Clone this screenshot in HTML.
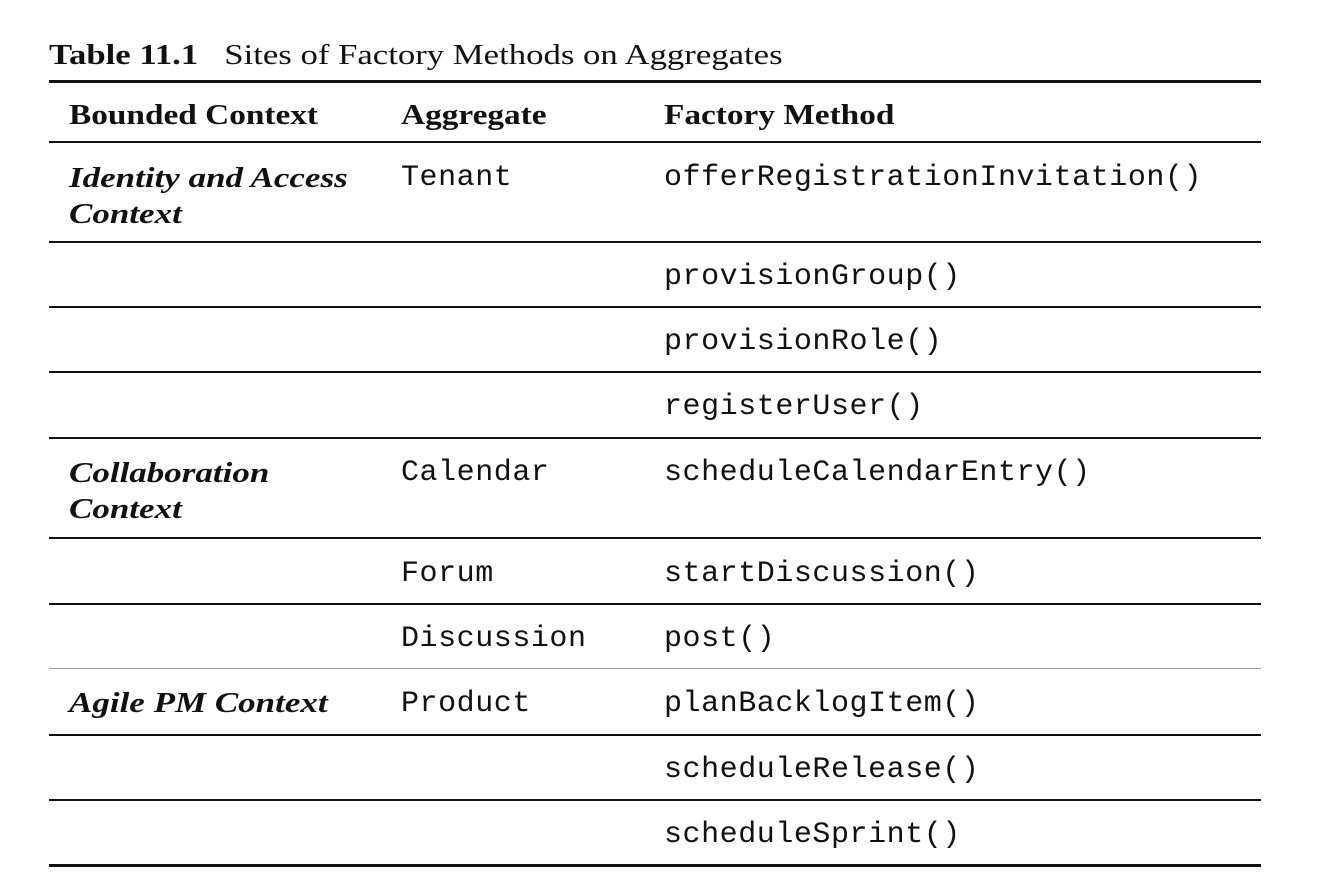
<!DOCTYPE html>
<html><head><meta charset="utf-8"><style>
body{margin:0;width:1318px;height:890px;background:#fff;position:relative;overflow:hidden;color:#111}
.s{position:absolute;font-family:"Liberation Serif",serif;font-size:28px;line-height:1;white-space:nowrap;transform-origin:0 50%}
.m{position:absolute;font-family:"Liberation Mono",monospace;font-size:30px;line-height:1;white-space:nowrap;letter-spacing:0.55px}
.b{font-weight:bold;transform:scaleX(1.19)}.i{font-style:italic;font-weight:bold;transform:scaleX(1.25)}
.l{position:absolute;left:49px;width:1212px;background:#111}
</style></head><body>
<div class="s" style="left:49px;top:42px;transform:scaleX(1.24)"><b>Table 11.1</b>&nbsp;&nbsp;&nbsp;Sites of Factory Methods on Aggregates</div>
<div class="l" style="top:80px;height:3px"></div>
<div class="s b" style="left:69px;top:102px">Bounded Context</div>
<div class="s b" style="left:401px;top:102px">Aggregate</div>
<div class="s b" style="left:664px;top:102px">Factory Method</div>
<div class="l" style="top:141px;height:2px"></div>
<div class="s i" style="left:69px;top:165px">Identity and Access</div>
<div class="s i" style="left:69px;top:201px">Context</div>
<div class="m" style="left:401px;top:163px">Tenant</div>
<div class="m" style="left:664px;top:163px">offerRegistrationInvitation()</div>
<div class="l" style="top:241px;height:2px"></div>
<div class="m" style="left:664px;top:262px">provisionGroup()</div>
<div class="l" style="top:306px;height:2px"></div>
<div class="m" style="left:664px;top:327px">provisionRole()</div>
<div class="l" style="top:371px;height:2px"></div>
<div class="m" style="left:664px;top:392px">registerUser()</div>
<div class="l" style="top:437px;height:2px"></div>
<div class="s i" style="left:69px;top:460px">Collaboration</div>
<div class="s i" style="left:69px;top:496px">Context</div>
<div class="m" style="left:401px;top:458px">Calendar</div>
<div class="m" style="left:664px;top:458px">scheduleCalendarEntry()</div>
<div class="l" style="top:537px;height:2px"></div>
<div class="m" style="left:401px;top:559px">Forum</div>
<div class="m" style="left:664px;top:559px">startDiscussion()</div>
<div class="l" style="top:603px;height:2px"></div>
<div class="m" style="left:401px;top:624px">Discussion</div>
<div class="m" style="left:664px;top:624px">post()</div>
<div class="l" style="top:668px;height:1px;background:#999"></div>
<div class="s i" style="left:69px;top:690px">Agile PM Context</div>
<div class="m" style="left:401px;top:689px">Product</div>
<div class="m" style="left:664px;top:689px">planBacklogItem()</div>
<div class="l" style="top:734px;height:2px"></div>
<div class="m" style="left:664px;top:755px">scheduleRelease()</div>
<div class="l" style="top:799px;height:2px"></div>
<div class="m" style="left:664px;top:820px">scheduleSprint()</div>
<div class="l" style="top:864px;height:3px"></div>
</body></html>
